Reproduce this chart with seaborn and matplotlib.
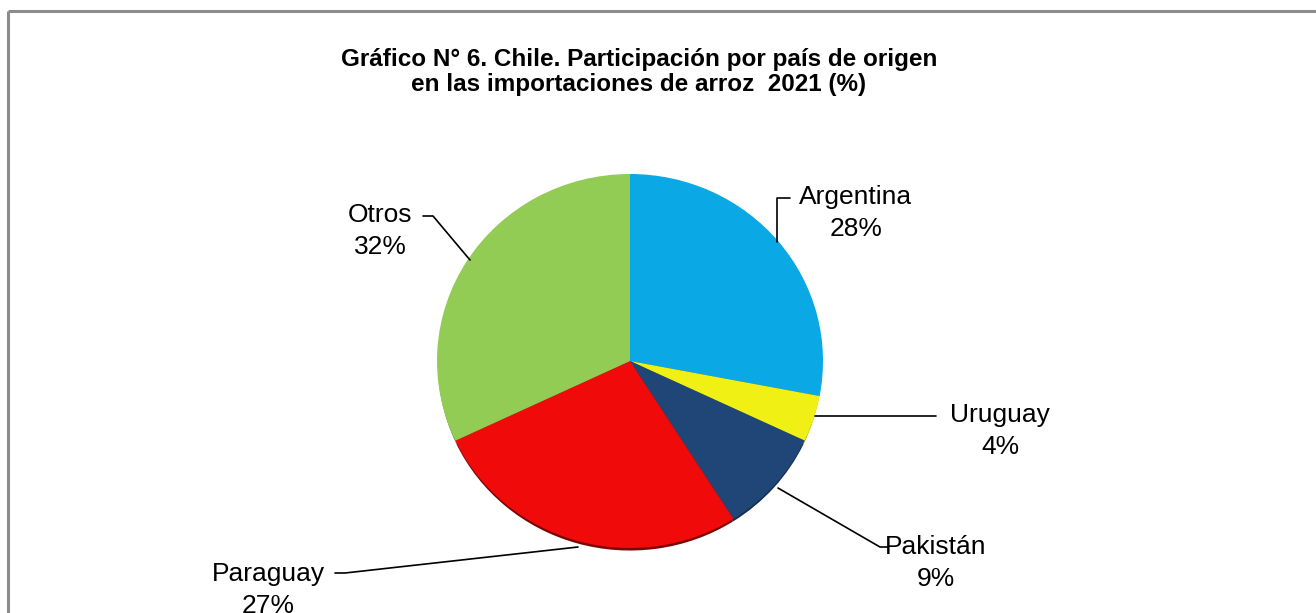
import matplotlib.pyplot as plt
import seaborn as sns

sns.set_theme(style="white")
plt.rcParams["font.family"] = ["Liberation Sans", "DejaVu Sans"]
plt.rcParams["text.color"] = "black"

countries = ["Argentina", "Uruguay", "Pakistán", "Paraguay", "Otros"]
shares = [28, 4, 9, 27, 32]
colors = ["#0AA8E4", "#F0F014", "#1F4677", "#F00A0A", "#92CC55"]
shadow_colors = ["#0A6E96", "#9E9E0A", "#142E4E", "#7A0606", "#5E8A36"]
title = "Gráfico N° 6. Chile. Participación por país de origen\nen las importaciones de arroz  2021 (%)"

W, H = 1316, 613
rx, ry = 193, 187
k = rx / ry


def px(x, y):
    # pixel coords (origin top-left) -> data coords
    return x, (H - y) * k


fig = plt.figure(figsize=(W / 100, H / 100), dpi=100)
ax = fig.add_axes([0, 0, 1, 1])

# frame
ax.plot(*zip(px(8, 11), px(W, 11)), color="#8c8c8c", lw=2.2, solid_capstyle="butt")
ax.plot(*zip(px(8, 11), px(8, H)), color="#8c8c8c", lw=2.2, solid_capstyle="butt")

center = px(630, 361)
wedge_style = {"linewidth": 0, "edgecolor": "none"}
# shadow
ax.pie(shares, colors=shadow_colors, startangle=90, counterclock=False,
       radius=rx - 1, center=(center[0], center[1] - 3.5 * k), frame=True,
       wedgeprops=wedge_style)
ax.pie(shares, colors=colors, startangle=90, counterclock=False,
       radius=rx, center=center, frame=True, wedgeprops=wedge_style)
ax.set_xlim(0, W)
ax.set_ylim(0, H * k)
ax.set_aspect("auto")
ax.axis("off")

fig.text(639 / W, 1 - 72 / H, title, ha="center", va="center", fontsize=17.5,
         fontweight="bold", linespacing=1.15, color="black")

labels = {
    "Argentina": (856, 213),
    "Uruguay": (1000, 431),
    "Pakistán": (936, 563),
    "Paraguay": (268, 590),
    "Otros": (380, 231),
}
leaders = {
    "Argentina": [(777, 242), (777, 198), (790, 198)],
    "Uruguay": [(815, 416), (936, 416)],
    "Pakistán": [(778, 488), (880, 547), (888, 547)],
    "Paraguay": [(578, 547), (345, 573), (335, 573)],
    "Otros": [(470, 260), (433, 216), (423, 216)],
}
for name, share in zip(countries, shares):
    x, y = px(*labels[name])
    ax.text(x, y, f"{name}\n{share}%", ha="center", va="center", fontsize=19,
            linespacing=1.45, color="black")
    pts = [px(*p) for p in leaders[name]]
    ax.plot([p[0] for p in pts], [p[1] for p in pts], color="black", lw=1.2)

fig.savefig("out.png", dpi=100, facecolor="white")
